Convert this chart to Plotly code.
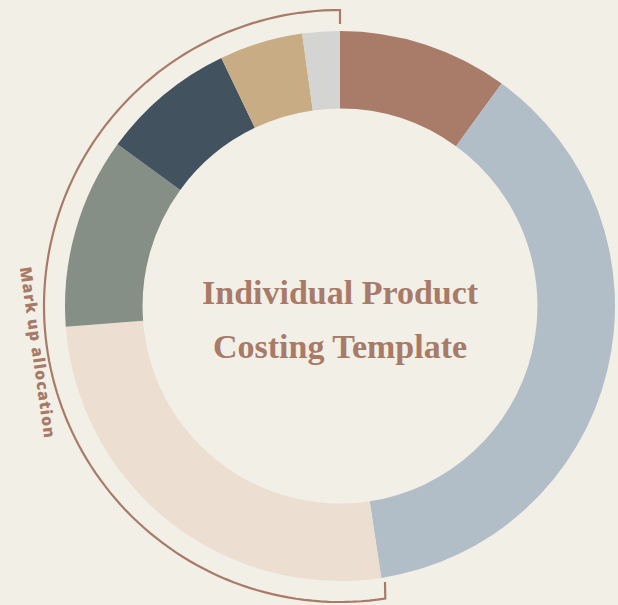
import math
import plotly.graph_objects as go

# ---- data ----
categories = ["Direct materials", "Direct labour", "Overheads", "Packaging",
              "Shipping", "Marketing", "Other"]
shares = [10.0, 37.6, 26.2, 11.2, 7.9, 4.9, 2.2]
colors = ["#a87c69", "#b2bec7", "#ecdfd2", "#858f86", "#42525f", "#c8ac84", "#d4d4d2"]
title_lines = ["Individual Product", "Costing Template"]
bracket_label = "Mark up allocation"

W, H = 618, 605
CX, CY, R = 340, 306, 275
BROWN = "#a87b68"
BG = "#f2efe7"

def px(x):
    return x / W

def py(y):
    return 1 - y / H

fig = go.Figure()
fig.add_trace(go.Pie(
    labels=categories, values=shares, sort=False, direction="clockwise",
    rotation=0, hole=0.718, textinfo="none", showlegend=False,
    marker=dict(colors=colors, line=dict(width=0)),
    domain=dict(x=[px(CX - R), px(CX + R)], y=[py(CY + R), py(CY - R)]),
))

# bracket arc on the left (decoration)
RA = 296
t0, t1 = 171.2, 360.0
pts = [(CX + 45, CY + 276)]
n = 120
for i in range(n + 1):
    t = math.radians(t0 + (t1 - t0) * i / n)
    pts.append((CX + RA * math.sin(t), CY - RA * math.cos(t)))
pts.append((CX, CY - 282))
path = "M " + " L ".join(f"{px(x):.5f},{py(y):.5f}" for x, y in pts)
fig.add_shape(type="path", path=path, xref="paper", yref="paper",
              line=dict(color=BROWN, width=2.2))

# rotated label along the bracket
fig.add_annotation(x=px(38), y=py(352),
                   xref="paper", yref="paper",
                   text=f'<span style="letter-spacing:1px">{bracket_label}</span>',
                   showarrow=False,
                   textangle=81.8, xanchor="center", yanchor="middle",
                   font=dict(family="Open Sans", size=16, color=BROWN, weight=800))

# centre title
for line, yc in zip(title_lines, [292, 346]):
    fig.add_annotation(x=px(CX), y=py(yc), xref="paper", yref="paper",
                       text=f"<b>{line}</b>", showarrow=False,
                       xanchor="center", yanchor="middle",
                       font=dict(family="Liberation Serif", size=34, color=BROWN))

fig.update_layout(width=W, height=H, margin=dict(l=0, r=0, t=0, b=0),
                  paper_bgcolor=BG, plot_bgcolor=BG)
fig.write_html("out.html", config={"displayModeBar": False},
               post_script="document.body.style.margin='0';document.body.style.background='%s';" % BG)
